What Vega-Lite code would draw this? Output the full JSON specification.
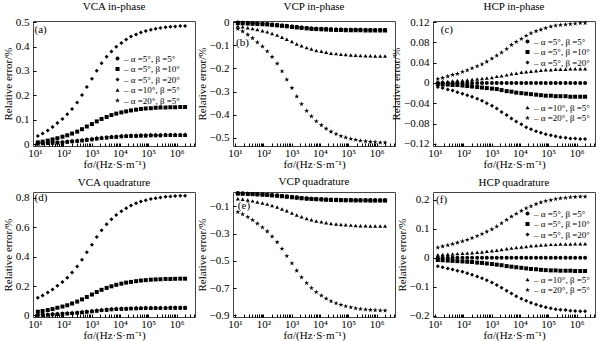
{
"$schema":"https://vega.github.io/schema/vega-lite/v6.json",
"background":"white",
"padding":{"left":1,"top":0,"right":2,"bottom":0},
"columns":3,
"spacing":{"row":46,"column":38},
"bounds":"flush",
"config":{
 "font":"Liberation Serif",
 "view":{"stroke":"#444","strokeWidth":1},
 "axis":{"domain":false,"grid":false,"tickColor":"#000","tickSize":-3,"tickWidth":1,"labelFontSize":11,"labelColor":"#000","titleFontSize":11,"titleFontWeight":"normal","titleColor":"#000"},
 "axisX":{"labelPadding":4,"titlePadding":0,"labelOverlap":false,"labelFlush":false,"labelBound":false},
 "axisY":{"labelPadding":7,"titlePadding":2,"labelOverlap":false,"labelBound":false},
 "title":{"fontSize":11,"fontWeight":400,"color":"#000","offset":0},
 "legend":{"orient":"none","labelFontSize":9,"labelColor":"#000","symbolSize":16,"symbolStrokeWidth":0,"symbolFillColor":"#000","rowPadding":0.5,"labelOffset":2,"padding":0}
},
"datasets":{
"names":[{"k":"s1","label":"α =5°, β =5°"},{"k":"s2","label":"α =5°, β =10°"},{"k":"s3","label":"α =5°, β =20°"},{"k":"s4","label":"α =10°, β =5°"},{"k":"s5","label":"α =20°, β =5°"}],
"a":[
{"x":12.6,"s1":0.002,"s2":0.007,"s3":0.033,"s4":0.001,"s5":0.003},
{"x":18.6,"s1":0.003,"s2":0.010,"s3":0.043,"s4":0.002,"s5":0.004},
{"x":28.2,"s1":0.004,"s2":0.014,"s3":0.056,"s4":0.003,"s5":0.005},
{"x":41.7,"s1":0.005,"s2":0.019,"s3":0.070,"s4":0.004,"s5":0.006},
{"x":61.7,"s1":0.006,"s2":0.024,"s3":0.086,"s4":0.005,"s5":0.007},
{"x":93.3,"s1":0.007,"s2":0.030,"s3":0.103,"s4":0.006,"s5":0.008},
{"x":138,"s1":0.009,"s2":0.036,"s3":0.122,"s4":0.008,"s5":0.010},
{"x":204,"s1":0.011,"s2":0.043,"s3":0.144,"s4":0.010,"s5":0.012},
{"x":309,"s1":0.013,"s2":0.051,"s3":0.171,"s4":0.012,"s5":0.014},
{"x":457,"s1":0.015,"s2":0.061,"s3":0.201,"s4":0.014,"s5":0.016},
{"x":676,"s1":0.018,"s2":0.072,"s3":0.234,"s4":0.017,"s5":0.019},
{"x":1023,"s1":0.020,"s2":0.082,"s3":0.268,"s4":0.019,"s5":0.021},
{"x":1514,"s1":0.023,"s2":0.093,"s3":0.301,"s4":0.022,"s5":0.024},
{"x":2239,"s1":0.025,"s2":0.103,"s3":0.332,"s4":0.024,"s5":0.026},
{"x":3388,"s1":0.027,"s2":0.111,"s3":0.358,"s4":0.026,"s5":0.028},
{"x":5012,"s1":0.029,"s2":0.119,"s3":0.380,"s4":0.028,"s5":0.030},
{"x":7413,"s1":0.030,"s2":0.125,"s3":0.399,"s4":0.029,"s5":0.031},
{"x":11220,"s1":0.032,"s2":0.130,"s3":0.415,"s4":0.031,"s5":0.033},
{"x":16600,"s1":0.033,"s2":0.134,"s3":0.429,"s4":0.032,"s5":0.034},
{"x":24550,"s1":0.034,"s2":0.138,"s3":0.441,"s4":0.033,"s5":0.035},
{"x":37150,"s1":0.034,"s2":0.141,"s3":0.450,"s4":0.033,"s5":0.035},
{"x":54950,"s1":0.035,"s2":0.144,"s3":0.458,"s4":0.034,"s5":0.036},
{"x":81280,"s1":0.035,"s2":0.146,"s3":0.464,"s4":0.034,"s5":0.036},
{"x":123000,"s1":0.036,"s2":0.147,"s3":0.469,"s4":0.035,"s5":0.037},
{"x":182000,"s1":0.036,"s2":0.149,"s3":0.473,"s4":0.035,"s5":0.037},
{"x":269200,"s1":0.036,"s2":0.150,"s3":0.476,"s4":0.035,"s5":0.037},
{"x":407400,"s1":0.037,"s2":0.150,"s3":0.479,"s4":0.036,"s5":0.038},
{"x":602600,"s1":0.037,"s2":0.151,"s3":0.481,"s4":0.036,"s5":0.038},
{"x":891300,"s1":0.037,"s2":0.151,"s3":0.482,"s4":0.036,"s5":0.038},
{"x":1349000,"s1":0.037,"s2":0.152,"s3":0.484,"s4":0.036,"s5":0.038},
{"x":1995000,"s1":0.037,"s2":0.152,"s3":0.484,"s4":0.036,"s5":0.038}
],
"b":[
{"x":12.6,"s1":-0.002,"s2":-0.004,"s3":-0.001,"s4":-0.017,"s5":-0.029},
{"x":18.6,"s1":-0.003,"s2":-0.005,"s3":-0.002,"s4":-0.020,"s5":-0.040},
{"x":28.2,"s1":-0.004,"s2":-0.006,"s3":-0.003,"s4":-0.024,"s5":-0.054},
{"x":41.7,"s1":-0.005,"s2":-0.007,"s3":-0.004,"s4":-0.028,"s5":-0.069},
{"x":61.7,"s1":-0.006,"s2":-0.008,"s3":-0.005,"s4":-0.032,"s5":-0.087},
{"x":93.3,"s1":-0.007,"s2":-0.009,"s3":-0.006,"s4":-0.037,"s5":-0.105},
{"x":138,"s1":-0.008,"s2":-0.010,"s3":-0.007,"s4":-0.042,"s5":-0.126},
{"x":204,"s1":-0.010,"s2":-0.012,"s3":-0.009,"s4":-0.049,"s5":-0.150},
{"x":309,"s1":-0.012,"s2":-0.014,"s3":-0.011,"s4":-0.056,"s5":-0.179},
{"x":457,"s1":-0.014,"s2":-0.016,"s3":-0.013,"s4":-0.065,"s5":-0.212},
{"x":676,"s1":-0.016,"s2":-0.018,"s3":-0.015,"s4":-0.074,"s5":-0.248},
{"x":1023,"s1":-0.019,"s2":-0.021,"s3":-0.018,"s4":-0.084,"s5":-0.284},
{"x":1514,"s1":-0.021,"s2":-0.023,"s3":-0.020,"s4":-0.094,"s5":-0.321},
{"x":2239,"s1":-0.023,"s2":-0.025,"s3":-0.022,"s4":-0.102,"s5":-0.354},
{"x":3388,"s1":-0.025,"s2":-0.027,"s3":-0.024,"s4":-0.110,"s5":-0.383},
{"x":5012,"s1":-0.027,"s2":-0.029,"s3":-0.026,"s4":-0.116,"s5":-0.407},
{"x":7413,"s1":-0.028,"s2":-0.030,"s3":-0.027,"s4":-0.122,"s5":-0.428},
{"x":11220,"s1":-0.029,"s2":-0.031,"s3":-0.028,"s4":-0.126,"s5":-0.445},
{"x":16600,"s1":-0.030,"s2":-0.032,"s3":-0.029,"s4":-0.130,"s5":-0.460},
{"x":24550,"s1":-0.031,"s2":-0.033,"s3":-0.030,"s4":-0.134,"s5":-0.473},
{"x":37150,"s1":-0.032,"s2":-0.034,"s3":-0.031,"s4":-0.136,"s5":-0.483},
{"x":54950,"s1":-0.032,"s2":-0.034,"s3":-0.031,"s4":-0.139,"s5":-0.492},
{"x":81280,"s1":-0.033,"s2":-0.035,"s3":-0.032,"s4":-0.140,"s5":-0.498},
{"x":123000,"s1":-0.033,"s2":-0.035,"s3":-0.032,"s4":-0.142,"s5":-0.504},
{"x":182000,"s1":-0.033,"s2":-0.035,"s3":-0.032,"s4":-0.143,"s5":-0.508},
{"x":269200,"s1":-0.033,"s2":-0.035,"s3":-0.032,"s4":-0.144,"s5":-0.512},
{"x":407400,"s1":-0.034,"s2":-0.036,"s3":-0.033,"s4":-0.145,"s5":-0.515},
{"x":602600,"s1":-0.034,"s2":-0.036,"s3":-0.033,"s4":-0.145,"s5":-0.517},
{"x":891300,"s1":-0.034,"s2":-0.036,"s3":-0.033,"s4":-0.146,"s5":-0.518},
{"x":1349000,"s1":-0.034,"s2":-0.036,"s3":-0.033,"s4":-0.146,"s5":-0.520},
{"x":1995000,"s1":-0.034,"s2":-0.036,"s3":-0.033,"s4":-0.146,"s5":-0.520}
],
"c":[
{"x":12.6,"s1":0,"s2":-0.002,"s3":-0.008,"s4":0.002,"s5":0.008},
{"x":18.6,"s1":0,"s2":-0.003,"s3":-0.010,"s4":0.003,"s5":0.010},
{"x":28.2,"s1":0,"s2":-0.003,"s3":-0.013,"s4":0.003,"s5":0.013},
{"x":41.7,"s1":0,"s2":-0.004,"s3":-0.015,"s4":0.004,"s5":0.016},
{"x":61.7,"s1":0,"s2":-0.004,"s3":-0.018,"s4":0.005,"s5":0.018},
{"x":93.3,"s1":0,"s2":-0.005,"s3":-0.021,"s4":0.005,"s5":0.022},
{"x":138,"s1":0,"s2":-0.006,"s3":-0.024,"s4":0.006,"s5":0.025},
{"x":204,"s1":0,"s2":-0.007,"s3":-0.027,"s4":0.007,"s5":0.029},
{"x":309,"s1":0,"s2":-0.008,"s3":-0.031,"s4":0.008,"s5":0.033},
{"x":457,"s1":0,"s2":-0.009,"s3":-0.035,"s4":0.009,"s5":0.037},
{"x":676,"s1":0,"s2":-0.010,"s3":-0.040,"s4":0.010,"s5":0.042},
{"x":1023,"s1":0,"s2":-0.011,"s3":-0.045,"s4":0.011,"s5":0.048},
{"x":1514,"s1":0,"s2":-0.012,"s3":-0.050,"s4":0.013,"s5":0.054},
{"x":2239,"s1":0,"s2":-0.014,"s3":-0.057,"s4":0.014,"s5":0.060},
{"x":3388,"s1":0,"s2":-0.016,"s3":-0.063,"s4":0.016,"s5":0.067},
{"x":5012,"s1":0,"s2":-0.017,"s3":-0.070,"s4":0.018,"s5":0.075},
{"x":7413,"s1":0,"s2":-0.019,"s3":-0.076,"s4":0.019,"s5":0.081},
{"x":11220,"s1":0,"s2":-0.020,"s3":-0.081,"s4":0.021,"s5":0.087},
{"x":16600,"s1":0,"s2":-0.021,"s3":-0.087,"s4":0.022,"s5":0.093},
{"x":24550,"s1":0,"s2":-0.022,"s3":-0.091,"s4":0.023,"s5":0.098},
{"x":37150,"s1":0,"s2":-0.023,"s3":-0.095,"s4":0.024,"s5":0.102},
{"x":54950,"s1":0,"s2":-0.024,"s3":-0.098,"s4":0.025,"s5":0.105},
{"x":81280,"s1":0,"s2":-0.025,"s3":-0.101,"s4":0.026,"s5":0.108},
{"x":123000,"s1":0,"s2":-0.025,"s3":-0.103,"s4":0.026,"s5":0.111},
{"x":182000,"s1":0,"s2":-0.026,"s3":-0.105,"s4":0.027,"s5":0.113},
{"x":269200,"s1":0,"s2":-0.026,"s3":-0.107,"s4":0.027,"s5":0.114},
{"x":407400,"s1":0,"s2":-0.026,"s3":-0.108,"s4":0.027,"s5":0.115},
{"x":602600,"s1":0,"s2":-0.027,"s3":-0.109,"s4":0.028,"s5":0.116},
{"x":891300,"s1":0,"s2":-0.027,"s3":-0.109,"s4":0.028,"s5":0.117},
{"x":1349000,"s1":0,"s2":-0.027,"s3":-0.110,"s4":0.028,"s5":0.118},
{"x":1995000,"s1":0,"s2":-0.027,"s3":-0.110,"s4":0.028,"s5":0.118}
],
"d":[
{"x":12.6,"s1":0.003,"s2":0.025,"s3":0.120,"s4":0.002,"s5":0.004},
{"x":18.6,"s1":0.004,"s2":0.030,"s3":0.135,"s4":0.003,"s5":0.005},
{"x":28.2,"s1":0.005,"s2":0.036,"s3":0.155,"s4":0.004,"s5":0.006},
{"x":41.7,"s1":0.007,"s2":0.043,"s3":0.177,"s4":0.006,"s5":0.008},
{"x":61.7,"s1":0.009,"s2":0.052,"s3":0.202,"s4":0.008,"s5":0.010},
{"x":93.3,"s1":0.011,"s2":0.060,"s3":0.228,"s4":0.010,"s5":0.012},
{"x":138,"s1":0.013,"s2":0.069,"s3":0.257,"s4":0.012,"s5":0.014},
{"x":204,"s1":0.015,"s2":0.081,"s3":0.292,"s4":0.014,"s5":0.016},
{"x":309,"s1":0.018,"s2":0.094,"s3":0.332,"s4":0.017,"s5":0.019},
{"x":457,"s1":0.021,"s2":0.109,"s3":0.379,"s4":0.020,"s5":0.022},
{"x":676,"s1":0.025,"s2":0.125,"s3":0.429,"s4":0.024,"s5":0.026},
{"x":1023,"s1":0.028,"s2":0.142,"s3":0.481,"s4":0.027,"s5":0.029},
{"x":1514,"s1":0.032,"s2":0.159,"s3":0.534,"s4":0.031,"s5":0.033},
{"x":2239,"s1":0.035,"s2":0.174,"s3":0.580,"s4":0.034,"s5":0.036},
{"x":3388,"s1":0.038,"s2":0.187,"s3":0.620,"s4":0.037,"s5":0.039},
{"x":5012,"s1":0.041,"s2":0.198,"s3":0.655,"s4":0.040,"s5":0.042},
{"x":7413,"s1":0.043,"s2":0.208,"s3":0.684,"s4":0.042,"s5":0.044},
{"x":11220,"s1":0.045,"s2":0.216,"s3":0.709,"s4":0.044,"s5":0.046},
{"x":16600,"s1":0.046,"s2":0.223,"s3":0.730,"s4":0.045,"s5":0.047},
{"x":24550,"s1":0.047,"s2":0.228,"s3":0.748,"s4":0.046,"s5":0.048},
{"x":37150,"s1":0.048,"s2":0.233,"s3":0.763,"s4":0.047,"s5":0.049},
{"x":54950,"s1":0.049,"s2":0.237,"s3":0.775,"s4":0.048,"s5":0.050},
{"x":81280,"s1":0.050,"s2":0.240,"s3":0.784,"s4":0.049,"s5":0.051},
{"x":123000,"s1":0.050,"s2":0.243,"s3":0.792,"s4":0.049,"s5":0.051},
{"x":182000,"s1":0.051,"s2":0.245,"s3":0.798,"s4":0.050,"s5":0.052},
{"x":269200,"s1":0.051,"s2":0.246,"s3":0.803,"s4":0.050,"s5":0.052},
{"x":407400,"s1":0.051,"s2":0.248,"s3":0.807,"s4":0.050,"s5":0.052},
{"x":602600,"s1":0.052,"s2":0.248,"s3":0.810,"s4":0.051,"s5":0.053},
{"x":891300,"s1":0.052,"s2":0.249,"s3":0.812,"s4":0.051,"s5":0.053},
{"x":1349000,"s1":0.052,"s2":0.250,"s3":0.814,"s4":0.051,"s5":0.053},
{"x":1995000,"s1":0.052,"s2":0.250,"s3":0.815,"s4":0.051,"s5":0.053}
],
"e":[
{"x":12.6,"s1":-0.005,"s2":-0.007,"s3":-0.003,"s4":-0.044,"s5":-0.142},
{"x":18.6,"s1":-0.006,"s2":-0.008,"s3":-0.004,"s4":-0.048,"s5":-0.158},
{"x":28.2,"s1":-0.008,"s2":-0.010,"s3":-0.006,"s4":-0.054,"s5":-0.178},
{"x":41.7,"s1":-0.009,"s2":-0.011,"s3":-0.007,"s4":-0.060,"s5":-0.201},
{"x":61.7,"s1":-0.011,"s2":-0.013,"s3":-0.009,"s4":-0.068,"s5":-0.227},
{"x":93.3,"s1":-0.013,"s2":-0.015,"s3":-0.011,"s4":-0.075,"s5":-0.254},
{"x":138,"s1":-0.015,"s2":-0.017,"s3":-0.013,"s4":-0.084,"s5":-0.284},
{"x":204,"s1":-0.018,"s2":-0.020,"s3":-0.016,"s4":-0.094,"s5":-0.321},
{"x":309,"s1":-0.021,"s2":-0.023,"s3":-0.019,"s4":-0.105,"s5":-0.363},
{"x":457,"s1":-0.024,"s2":-0.026,"s3":-0.022,"s4":-0.119,"s5":-0.411},
{"x":676,"s1":-0.028,"s2":-0.030,"s3":-0.026,"s4":-0.133,"s5":-0.464},
{"x":1023,"s1":-0.032,"s2":-0.034,"s3":-0.030,"s4":-0.149,"s5":-0.518},
{"x":1514,"s1":-0.035,"s2":-0.037,"s3":-0.033,"s4":-0.164,"s5":-0.572},
{"x":2239,"s1":-0.039,"s2":-0.041,"s3":-0.037,"s4":-0.177,"s5":-0.621},
{"x":3388,"s1":-0.042,"s2":-0.044,"s3":-0.040,"s4":-0.189,"s5":-0.663},
{"x":5012,"s1":-0.044,"s2":-0.046,"s3":-0.042,"s4":-0.199,"s5":-0.699},
{"x":7413,"s1":-0.046,"s2":-0.048,"s3":-0.044,"s4":-0.207,"s5":-0.729},
{"x":11220,"s1":-0.048,"s2":-0.050,"s3":-0.046,"s4":-0.214,"s5":-0.755},
{"x":16600,"s1":-0.050,"s2":-0.052,"s3":-0.048,"s4":-0.220,"s5":-0.777},
{"x":24550,"s1":-0.051,"s2":-0.053,"s3":-0.049,"s4":-0.226,"s5":-0.796},
{"x":37150,"s1":-0.052,"s2":-0.054,"s3":-0.050,"s4":-0.230,"s5":-0.811},
{"x":54950,"s1":-0.053,"s2":-0.055,"s3":-0.051,"s4":-0.233,"s5":-0.823},
{"x":81280,"s1":-0.054,"s2":-0.056,"s3":-0.052,"s4":-0.236,"s5":-0.833},
{"x":123000,"s1":-0.054,"s2":-0.056,"s3":-0.052,"s4":-0.238,"s5":-0.841},
{"x":182000,"s1":-0.055,"s2":-0.057,"s3":-0.053,"s4":-0.240,"s5":-0.848},
{"x":269200,"s1":-0.055,"s2":-0.057,"s3":-0.053,"s4":-0.242,"s5":-0.853},
{"x":407400,"s1":-0.055,"s2":-0.057,"s3":-0.053,"s4":-0.243,"s5":-0.857},
{"x":602600,"s1":-0.056,"s2":-0.058,"s3":-0.054,"s4":-0.244,"s5":-0.860},
{"x":891300,"s1":-0.056,"s2":-0.058,"s3":-0.054,"s4":-0.244,"s5":-0.862},
{"x":1349000,"s1":-0.056,"s2":-0.058,"s3":-0.054,"s4":-0.245,"s5":-0.864},
{"x":1995000,"s1":-0.056,"s2":-0.058,"s3":-0.054,"s4":-0.245,"s5":-0.865}
],
"f":[
{"x":12.6,"s1":0,"s2":-0.008,"s3":-0.030,"s4":0.010,"s5":0.035},
{"x":18.6,"s1":0,"s2":-0.009,"s3":-0.033,"s4":0.011,"s5":0.039},
{"x":28.2,"s1":0,"s2":-0.010,"s3":-0.037,"s4":0.012,"s5":0.043},
{"x":41.7,"s1":0,"s2":-0.011,"s3":-0.041,"s4":0.013,"s5":0.047},
{"x":61.7,"s1":0,"s2":-0.012,"s3":-0.045,"s4":0.014,"s5":0.052},
{"x":93.3,"s1":0,"s2":-0.013,"s3":-0.049,"s4":0.015,"s5":0.057},
{"x":138,"s1":0,"s2":-0.014,"s3":-0.054,"s4":0.016,"s5":0.062},
{"x":204,"s1":0,"s2":-0.015,"s3":-0.059,"s4":0.017,"s5":0.068},
{"x":309,"s1":0,"s2":-0.017,"s3":-0.065,"s4":0.019,"s5":0.075},
{"x":457,"s1":0,"s2":-0.018,"s3":-0.071,"s4":0.020,"s5":0.082},
{"x":676,"s1":0,"s2":-0.020,"s3":-0.078,"s4":0.022,"s5":0.090},
{"x":1023,"s1":0,"s2":-0.022,"s3":-0.086,"s4":0.024,"s5":0.098},
{"x":1514,"s1":0,"s2":-0.024,"s3":-0.094,"s4":0.026,"s5":0.108},
{"x":2239,"s1":0,"s2":-0.026,"s3":-0.104,"s4":0.028,"s5":0.119},
{"x":3388,"s1":0,"s2":-0.029,"s3":-0.114,"s4":0.031,"s5":0.131},
{"x":5012,"s1":0,"s2":-0.031,"s3":-0.124,"s4":0.033,"s5":0.142},
{"x":7413,"s1":0,"s2":-0.033,"s3":-0.133,"s4":0.035,"s5":0.152},
{"x":11220,"s1":0,"s2":-0.035,"s3":-0.142,"s4":0.037,"s5":0.162},
{"x":16600,"s1":0,"s2":-0.037,"s3":-0.149,"s4":0.039,"s5":0.171},
{"x":24550,"s1":0,"s2":-0.039,"s3":-0.156,"s4":0.041,"s5":0.178},
{"x":37150,"s1":0,"s2":-0.040,"s3":-0.162,"s4":0.042,"s5":0.185},
{"x":54950,"s1":0,"s2":-0.042,"s3":-0.167,"s4":0.044,"s5":0.191},
{"x":81280,"s1":0,"s2":-0.043,"s3":-0.171,"s4":0.045,"s5":0.196},
{"x":123000,"s1":0,"s2":-0.044,"s3":-0.175,"s4":0.046,"s5":0.199},
{"x":182000,"s1":0,"s2":-0.044,"s3":-0.178,"s4":0.046,"s5":0.203},
{"x":269200,"s1":0,"s2":-0.045,"s3":-0.180,"s4":0.047,"s5":0.205},
{"x":407400,"s1":0,"s2":-0.045,"s3":-0.181,"s4":0.047,"s5":0.207},
{"x":602600,"s1":0,"s2":-0.045,"s3":-0.183,"s4":0.047,"s5":0.209},
{"x":891300,"s1":0,"s2":-0.046,"s3":-0.184,"s4":0.048,"s5":0.210},
{"x":1349000,"s1":0,"s2":-0.046,"s3":-0.185,"s4":0.048,"s5":0.211},
{"x":1995000,"s1":0,"s2":-0.046,"s3":-0.185,"s4":0.048,"s5":0.211}
]
},
"concat":[
{"title":"VCA in-phase","width":162,"height":125,
 "layer":[
  {"data":{"name":"a"},
   "transform":[{"fold":["s1","s2","s3","s4","s5"],"as":["k","y"]},{"lookup":"k","from":{"data":{"name":"names"},"key":"k","fields":["label"]}}],
   "mark":{"type":"point","filled":true,"color":"#000","size":16,"opacity":1},
   "encoding":{
    "x":{"field":"x","type":"quantitative","scale":{"type":"log","domain":[8.5,4470000],"nice":false},"axis":{"title":"fσ/(Hz·S·m⁻¹)","values":[10,20,30,40,50,60,70,80,90,100,200,300,400,500,600,700,800,900,1000,2000,3000,4000,5000,6000,7000,8000,9000,10000,20000,30000,40000,50000,60000,70000,80000,90000,100000,200000,300000,400000,500000,600000,700000,800000,900000,1000000,2000000,3000000,4000000],"labelExpr":"abs(log(datum.value)/LN10 - round(log(datum.value)/LN10)) < 0.01 ? '10' + ['⁰','¹','²','³','⁴','⁵','⁶','⁷'][round(log(datum.value)/LN10)] : ''"}},
    "y":{"field":"y","type":"quantitative","scale":{"domain":[-0.008,0.505],"nice":false,"zero":false},"axis":{"title":"Relative error/%","values":[0,0.1,0.2,0.3,0.4,0.5],"labelOverlap":false,"labelExpr":"format(datum.value, '~g')"}},
    "shape":{"field":"label","type":"nominal","scale":{"domain":["α =5°, β =5°","α =5°, β =10°","α =5°, β =20°","α =10°, β =5°","α =20°, β =5°"],"range":["circle","square","diamond","triangle-up","M0,-1.3L0.29,-0.4L1.24,-0.4L0.47,0.15L0.76,1.05L0,0.5L-0.76,1.05L-0.47,0.15L-1.24,-0.4L-0.29,-0.4Z"]},"legend":{"title":null,"legendX":80,"legendY":33,"labelExpr":"'– ' + datum.label"}}
   }},
  {"data":{"values":[{}]},"mark":{"type":"text","align":"left","baseline":"middle","fontSize":11},"encoding":{"x":{"datum":9.6,"type":"quantitative","axis":{"title":"fσ/(Hz·S·m⁻¹)","values":[10,20,30,40,50,60,70,80,90,100,200,300,400,500,600,700,800,900,1000,2000,3000,4000,5000,6000,7000,8000,9000,10000,20000,30000,40000,50000,60000,70000,80000,90000,100000,200000,300000,400000,500000,600000,700000,800000,900000,1000000,2000000,3000000,4000000],"labelExpr":"abs(log(datum.value)/LN10 - round(log(datum.value)/LN10)) < 0.01 ? '10' + ['⁰','¹','²','³','⁴','⁵','⁶','⁷'][round(log(datum.value)/LN10)] : ''"}},"y":{"datum":0.47,"type":"quantitative","axis":{"title":"Relative error/%","values":[0,0.1,0.2,0.3,0.4,0.5],"labelOverlap":false,"labelExpr":"format(datum.value, '~g')"}},"text":{"value":"(a)"}}}
 ]},
{"title":"VCP in-phase","width":162,"height":125,
 "layer":[
  {"data":{"name":"b"},
   "transform":[{"fold":["s1","s2","s3","s4","s5"],"as":["k","y"]},{"lookup":"k","from":{"data":{"name":"names"},"key":"k","fields":["label"]}}],
   "mark":{"type":"point","filled":true,"color":"#000","size":16,"opacity":1},
   "encoding":{
    "x":{"field":"x","type":"quantitative","scale":{"type":"log","domain":[8.5,4470000],"nice":false},"axis":{"title":"fσ/(Hz·S·m⁻¹)","values":[10,20,30,40,50,60,70,80,90,100,200,300,400,500,600,700,800,900,1000,2000,3000,4000,5000,6000,7000,8000,9000,10000,20000,30000,40000,50000,60000,70000,80000,90000,100000,200000,300000,400000,500000,600000,700000,800000,900000,1000000,2000000,3000000,4000000],"labelExpr":"abs(log(datum.value)/LN10 - round(log(datum.value)/LN10)) < 0.01 ? '10' + ['⁰','¹','²','³','⁴','⁵','⁶','⁷'][round(log(datum.value)/LN10)] : ''"}},
    "y":{"field":"y","type":"quantitative","scale":{"domain":[-0.535,0.005],"nice":false,"zero":false},"axis":{"title":"Relative error/%","values":[0,-0.1,-0.2,-0.3,-0.4,-0.5],"labelOverlap":false,"labelExpr":"format(datum.value, '~g')"}},
    "shape":{"field":"label","type":"nominal","scale":{"domain":["α =5°, β =5°","α =5°, β =10°","α =5°, β =20°","α =10°, β =5°","α =20°, β =5°"],"range":["circle","square","diamond","triangle-up","M0,-1.3L0.29,-0.4L1.24,-0.4L0.47,0.15L0.76,1.05L0,0.5L-0.76,1.05L-0.47,0.15L-1.24,-0.4L-0.29,-0.4Z"]},"legend":{"title":null,"legendX":79,"legendY":41,"labelExpr":"'– ' + datum.label"}}
   }},
  {"data":{"values":[{}]},"mark":{"type":"text","align":"left","baseline":"middle","fontSize":11},"encoding":{"x":{"datum":10.9,"type":"quantitative","axis":{"title":"fσ/(Hz·S·m⁻¹)","values":[10,20,30,40,50,60,70,80,90,100,200,300,400,500,600,700,800,900,1000,2000,3000,4000,5000,6000,7000,8000,9000,10000,20000,30000,40000,50000,60000,70000,80000,90000,100000,200000,300000,400000,500000,600000,700000,800000,900000,1000000,2000000,3000000,4000000],"labelExpr":"abs(log(datum.value)/LN10 - round(log(datum.value)/LN10)) < 0.01 ? '10' + ['⁰','¹','²','³','⁴','⁵','⁶','⁷'][round(log(datum.value)/LN10)] : ''"}},"y":{"datum":-0.088,"type":"quantitative","axis":{"title":"Relative error/%","values":[0,-0.1,-0.2,-0.3,-0.4,-0.5],"labelOverlap":false,"labelExpr":"format(datum.value, '~g')"}},"text":{"value":"(b)"}}}
 ]},
{"title":"HCP in-phase","width":162,"height":125,
 "resolve":{"scale":{"shape":"independent"},"legend":{"shape":"independent"}},
 "layer":[
  {"data":{"name":"c"},
   "transform":[{"fold":["s1","s2","s3","s4","s5"],"as":["k","y"]},{"lookup":"k","from":{"data":{"name":"names"},"key":"k","fields":["label"]}},{"filter":{"field":"k","oneOf":["s1","s2","s3"]}}],
   "mark":{"type":"point","filled":true,"color":"#000","size":16,"opacity":1},
   "encoding":{
    "x":{"field":"x","type":"quantitative","scale":{"type":"log","domain":[8.5,4470000],"nice":false},"axis":{"title":"fσ/(Hz·S·m⁻¹)","values":[10,20,30,40,50,60,70,80,90,100,200,300,400,500,600,700,800,900,1000,2000,3000,4000,5000,6000,7000,8000,9000,10000,20000,30000,40000,50000,60000,70000,80000,90000,100000,200000,300000,400000,500000,600000,700000,800000,900000,1000000,2000000,3000000,4000000],"labelExpr":"abs(log(datum.value)/LN10 - round(log(datum.value)/LN10)) < 0.01 ? '10' + ['⁰','¹','²','³','⁴','⁵','⁶','⁷'][round(log(datum.value)/LN10)] : ''"}},
    "y":{"field":"y","type":"quantitative","scale":{"domain":[-0.124,0.122],"nice":false,"zero":false},"axis":{"title":"Relative error/%","values":[-0.12,-0.08,-0.04,0,0.04,0.08,0.12],"labelOverlap":false,"labelExpr":"format(datum.value, '~g')"}},
    "shape":{"field":"label","type":"nominal","scale":{"domain":["α =5°, β =5°","α =5°, β =10°","α =5°, β =20°"],"range":["circle","square","diamond"]},"legend":{"title":null,"legendX":90,"legendY":16,"labelExpr":"'– ' + datum.label"}}
   }},
  {"data":{"name":"c"},
   "transform":[{"fold":["s1","s2","s3","s4","s5"],"as":["k","y"]},{"lookup":"k","from":{"data":{"name":"names"},"key":"k","fields":["label"]}},{"filter":{"field":"k","oneOf":["s4","s5"]}}],
   "mark":{"type":"point","filled":true,"color":"#000","size":16,"opacity":1},
   "encoding":{
    "x":{"field":"x","type":"quantitative","axis":{"title":"fσ/(Hz·S·m⁻¹)","values":[10,20,30,40,50,60,70,80,90,100,200,300,400,500,600,700,800,900,1000,2000,3000,4000,5000,6000,7000,8000,9000,10000,20000,30000,40000,50000,60000,70000,80000,90000,100000,200000,300000,400000,500000,600000,700000,800000,900000,1000000,2000000,3000000,4000000],"labelExpr":"abs(log(datum.value)/LN10 - round(log(datum.value)/LN10)) < 0.01 ? '10' + ['⁰','¹','²','³','⁴','⁵','⁶','⁷'][round(log(datum.value)/LN10)] : ''"}},
    "y":{"field":"y","type":"quantitative","axis":{"title":"Relative error/%","values":[-0.12,-0.08,-0.04,0,0.04,0.08,0.12],"labelOverlap":false,"labelExpr":"format(datum.value, '~g')"}},
    "shape":{"field":"label","type":"nominal","scale":{"domain":["α =10°, β =5°","α =20°, β =5°"],"range":["triangle-up","M0,-1.3L0.29,-0.4L1.24,-0.4L0.47,0.15L0.76,1.05L0,0.5L-0.76,1.05L-0.47,0.15L-1.24,-0.4L-0.29,-0.4Z"]},"legend":{"title":null,"legendX":90,"legendY":82,"labelExpr":"'– ' + datum.label"}}
   }},
  {"data":{"values":[{}]},"mark":{"type":"text","align":"left","baseline":"middle","fontSize":11},"encoding":{"x":{"datum":16,"type":"quantitative","axis":{"title":"fσ/(Hz·S·m⁻¹)","values":[10,20,30,40,50,60,70,80,90,100,200,300,400,500,600,700,800,900,1000,2000,3000,4000,5000,6000,7000,8000,9000,10000,20000,30000,40000,50000,60000,70000,80000,90000,100000,200000,300000,400000,500000,600000,700000,800000,900000,1000000,2000000,3000000,4000000],"labelExpr":"abs(log(datum.value)/LN10 - round(log(datum.value)/LN10)) < 0.01 ? '10' + ['⁰','¹','²','³','⁴','⁵','⁶','⁷'][round(log(datum.value)/LN10)] : ''"}},"y":{"datum":0.105,"type":"quantitative","axis":{"title":"Relative error/%","values":[-0.12,-0.08,-0.04,0,0.04,0.08,0.12],"labelOverlap":false,"labelExpr":"format(datum.value, '~g')"}},"text":{"value":"(c)"}}}
 ]},
{"title":"VCA quadrature","width":162,"height":125,
 "layer":[
  {"data":{"name":"d"},
   "transform":[{"fold":["s1","s2","s3","s4","s5"],"as":["k","y"]},{"lookup":"k","from":{"data":{"name":"names"},"key":"k","fields":["label"]}}],
   "mark":{"type":"point","filled":true,"color":"#000","size":16,"opacity":1},
   "encoding":{
    "x":{"field":"x","type":"quantitative","scale":{"type":"log","domain":[8.5,4470000],"nice":false},"axis":{"title":"fσ/(Hz·S·m⁻¹)","values":[10,20,30,40,50,60,70,80,90,100,200,300,400,500,600,700,800,900,1000,2000,3000,4000,5000,6000,7000,8000,9000,10000,20000,30000,40000,50000,60000,70000,80000,90000,100000,200000,300000,400000,500000,600000,700000,800000,900000,1000000,2000000,3000000,4000000],"labelExpr":"abs(log(datum.value)/LN10 - round(log(datum.value)/LN10)) < 0.01 ? '10' + ['⁰','¹','²','³','⁴','⁵','⁶','⁷'][round(log(datum.value)/LN10)] : ''"}},
    "y":{"field":"y","type":"quantitative","scale":{"domain":[-0.011,0.84],"nice":false,"zero":false},"axis":{"title":"Relative error/%","values":[0,0.2,0.4,0.6,0.8],"labelOverlap":false,"labelExpr":"format(datum.value, '~g')"}},
    "shape":{"field":"label","type":"nominal","scale":{"domain":["α =5°, β =5°","α =5°, β =10°","α =5°, β =20°","α =10°, β =5°","α =20°, β =5°"],"range":["circle","square","diamond","triangle-up","M0,-1.3L0.29,-0.4L1.24,-0.4L0.47,0.15L0.76,1.05L0,0.5L-0.76,1.05L-0.47,0.15L-1.24,-0.4L-0.29,-0.4Z"]},"legend":{"title":null,"legendX":81,"legendY":31,"labelExpr":"'– ' + datum.label"}}
   }},
  {"data":{"values":[{}]},"mark":{"type":"text","align":"left","baseline":"middle","fontSize":11},"encoding":{"x":{"datum":9.6,"type":"quantitative","axis":{"title":"fσ/(Hz·S·m⁻¹)","values":[10,20,30,40,50,60,70,80,90,100,200,300,400,500,600,700,800,900,1000,2000,3000,4000,5000,6000,7000,8000,9000,10000,20000,30000,40000,50000,60000,70000,80000,90000,100000,200000,300000,400000,500000,600000,700000,800000,900000,1000000,2000000,3000000,4000000],"labelExpr":"abs(log(datum.value)/LN10 - round(log(datum.value)/LN10)) < 0.01 ? '10' + ['⁰','¹','²','³','⁴','⁵','⁶','⁷'][round(log(datum.value)/LN10)] : ''"}},"y":{"datum":0.8,"type":"quantitative","axis":{"title":"Relative error/%","values":[0,0.2,0.4,0.6,0.8],"labelOverlap":false,"labelExpr":"format(datum.value, '~g')"}},"text":{"value":"(d)"}}}
 ]},
{"title":"VCP quadrature","width":162,"height":125,
 "layer":[
  {"data":{"name":"e"},
   "transform":[{"fold":["s1","s2","s3","s4","s5"],"as":["k","y"]},{"lookup":"k","from":{"data":{"name":"names"},"key":"k","fields":["label"]}}],
   "mark":{"type":"point","filled":true,"color":"#000","size":16,"opacity":1},
   "encoding":{
    "x":{"field":"x","type":"quantitative","scale":{"type":"log","domain":[8.5,4470000],"nice":false},"axis":{"title":"fσ/(Hz·S·m⁻¹)","values":[10,20,30,40,50,60,70,80,90,100,200,300,400,500,600,700,800,900,1000,2000,3000,4000,5000,6000,7000,8000,9000,10000,20000,30000,40000,50000,60000,70000,80000,90000,100000,200000,300000,400000,500000,600000,700000,800000,900000,1000000,2000000,3000000,4000000],"labelExpr":"abs(log(datum.value)/LN10 - round(log(datum.value)/LN10)) < 0.01 ? '10' + ['⁰','¹','²','³','⁴','⁵','⁶','⁷'][round(log(datum.value)/LN10)] : ''"}},
    "y":{"field":"y","type":"quantitative","scale":{"domain":[-0.912,0.005],"nice":false,"zero":false},"axis":{"title":"Relative error/%","values":[-0.1,-0.3,-0.5,-0.7,-0.9],"labelOverlap":false,"labelExpr":"format(datum.value, '~g')"}},
    "shape":{"field":"label","type":"nominal","scale":{"domain":["α =5°, β =5°","α =5°, β =10°","α =5°, β =20°","α =10°, β =5°","α =20°, β =5°"],"range":["circle","square","diamond","triangle-up","M0,-1.3L0.29,-0.4L1.24,-0.4L0.47,0.15L0.76,1.05L0,0.5L-0.76,1.05L-0.47,0.15L-1.24,-0.4L-0.29,-0.4Z"]},"legend":{"title":null,"legendX":84,"legendY":41,"labelExpr":"'– ' + datum.label"}}
   }},
  {"data":{"values":[{}]},"mark":{"type":"text","align":"left","baseline":"middle","fontSize":11},"encoding":{"x":{"datum":12.6,"type":"quantitative","axis":{"title":"fσ/(Hz·S·m⁻¹)","values":[10,20,30,40,50,60,70,80,90,100,200,300,400,500,600,700,800,900,1000,2000,3000,4000,5000,6000,7000,8000,9000,10000,20000,30000,40000,50000,60000,70000,80000,90000,100000,200000,300000,400000,500000,600000,700000,800000,900000,1000000,2000000,3000000,4000000],"labelExpr":"abs(log(datum.value)/LN10 - round(log(datum.value)/LN10)) < 0.01 ? '10' + ['⁰','¹','²','³','⁴','⁵','⁶','⁷'][round(log(datum.value)/LN10)] : ''"}},"y":{"datum":-0.1,"type":"quantitative","axis":{"title":"Relative error/%","values":[-0.1,-0.3,-0.5,-0.7,-0.9],"labelOverlap":false,"labelExpr":"format(datum.value, '~g')"}},"text":{"value":"(e)"}}}
 ]},
{"title":"HCP quadrature","width":162,"height":125,
 "resolve":{"scale":{"shape":"independent"},"legend":{"shape":"independent"}},
 "layer":[
  {"data":{"name":"f"},
   "transform":[{"fold":["s1","s2","s3","s4","s5"],"as":["k","y"]},{"lookup":"k","from":{"data":{"name":"names"},"key":"k","fields":["label"]}},{"filter":{"field":"k","oneOf":["s1","s2","s3"]}}],
   "mark":{"type":"point","filled":true,"color":"#000","size":16,"opacity":1},
   "encoding":{
    "x":{"field":"x","type":"quantitative","scale":{"type":"log","domain":[8.5,4470000],"nice":false},"axis":{"title":"fσ/(Hz·S·m⁻¹)","values":[10,20,30,40,50,60,70,80,90,100,200,300,400,500,600,700,800,900,1000,2000,3000,4000,5000,6000,7000,8000,9000,10000,20000,30000,40000,50000,60000,70000,80000,90000,100000,200000,300000,400000,500000,600000,700000,800000,900000,1000000,2000000,3000000,4000000],"labelExpr":"abs(log(datum.value)/LN10 - round(log(datum.value)/LN10)) < 0.01 ? '10' + ['⁰','¹','²','³','⁴','⁵','⁶','⁷'][round(log(datum.value)/LN10)] : ''"}},
    "y":{"field":"y","type":"quantitative","scale":{"domain":[-0.205,0.227],"nice":false,"zero":false},"axis":{"title":"Relative error/%","values":[-0.2,-0.1,0,0.1,0.2],"labelOverlap":false,"labelExpr":"format(datum.value, '~g')"}},
    "shape":{"field":"label","type":"nominal","scale":{"domain":["α =5°, β =5°","α =5°, β =10°","α =5°, β =20°"],"range":["circle","square","diamond"]},"legend":{"title":null,"legendX":90,"legendY":17,"labelExpr":"'– ' + datum.label"}}
   }},
  {"data":{"name":"f"},
   "transform":[{"fold":["s1","s2","s3","s4","s5"],"as":["k","y"]},{"lookup":"k","from":{"data":{"name":"names"},"key":"k","fields":["label"]}},{"filter":{"field":"k","oneOf":["s4","s5"]}}],
   "mark":{"type":"point","filled":true,"color":"#000","size":16,"opacity":1},
   "encoding":{
    "x":{"field":"x","type":"quantitative","axis":{"title":"fσ/(Hz·S·m⁻¹)","values":[10,20,30,40,50,60,70,80,90,100,200,300,400,500,600,700,800,900,1000,2000,3000,4000,5000,6000,7000,8000,9000,10000,20000,30000,40000,50000,60000,70000,80000,90000,100000,200000,300000,400000,500000,600000,700000,800000,900000,1000000,2000000,3000000,4000000],"labelExpr":"abs(log(datum.value)/LN10 - round(log(datum.value)/LN10)) < 0.01 ? '10' + ['⁰','¹','²','³','⁴','⁵','⁶','⁷'][round(log(datum.value)/LN10)] : ''"}},
    "y":{"field":"y","type":"quantitative","axis":{"title":"Relative error/%","values":[-0.2,-0.1,0,0.1,0.2],"labelOverlap":false,"labelExpr":"format(datum.value, '~g')"}},
    "shape":{"field":"label","type":"nominal","scale":{"domain":["α =10°, β =5°","α =20°, β =5°"],"range":["triangle-up","M0,-1.3L0.29,-0.4L1.24,-0.4L0.47,0.15L0.76,1.05L0,0.5L-0.76,1.05L-0.47,0.15L-1.24,-0.4L-0.29,-0.4Z"]},"legend":{"title":null,"legendX":90,"legendY":83,"labelExpr":"'– ' + datum.label"}}
   }},
  {"data":{"values":[{}]},"mark":{"type":"text","align":"left","baseline":"middle","fontSize":11},"encoding":{"x":{"datum":10.9,"type":"quantitative","axis":{"title":"fσ/(Hz·S·m⁻¹)","values":[10,20,30,40,50,60,70,80,90,100,200,300,400,500,600,700,800,900,1000,2000,3000,4000,5000,6000,7000,8000,9000,10000,20000,30000,40000,50000,60000,70000,80000,90000,100000,200000,300000,400000,500000,600000,700000,800000,900000,1000000,2000000,3000000,4000000],"labelExpr":"abs(log(datum.value)/LN10 - round(log(datum.value)/LN10)) < 0.01 ? '10' + ['⁰','¹','²','³','⁴','⁵','⁶','⁷'][round(log(datum.value)/LN10)] : ''"}},"y":{"datum":0.2,"type":"quantitative","axis":{"title":"Relative error/%","values":[-0.2,-0.1,0,0.1,0.2],"labelOverlap":false,"labelExpr":"format(datum.value, '~g')"}},"text":{"value":"(f)"}}}
 ]}
]
}
